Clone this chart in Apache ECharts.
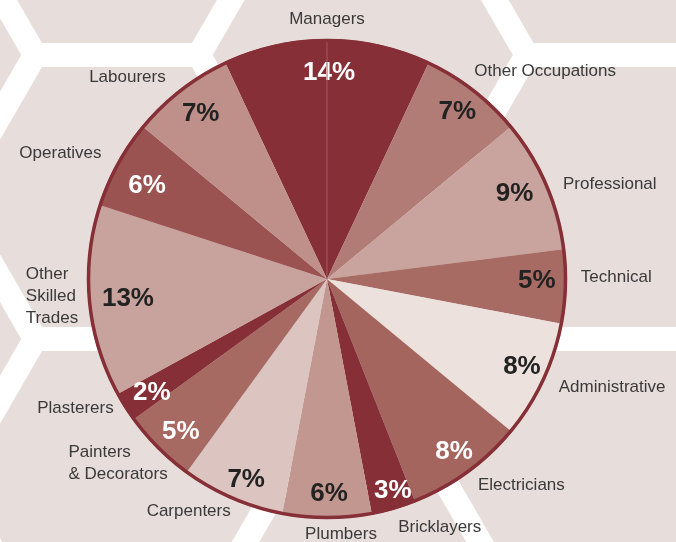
<!DOCTYPE html>
<html>
<head>
<meta charset="utf-8">
<script src="https://cdn.jsdelivr.net/npm/echarts@6/dist/echarts.min.js"></script>
<style>
	html, body { margin: 0; padding: 0; background: #ffffff; }
	#workforce { width: 676px; height: 542px; }
</style>
</head>
<body>
<div id="workforce"></div>
<script>
// occupation shares, clockwise from the top
const categories = ['Managers', 'Other Occupations', 'Professional', 'Technical', 'Administrative', 'Electricians', 'Bricklayers', 'Plumbers', 'Carpenters', 'Painters\n& Decorators', 'Plasterers', 'Other\nSkilled\nTrades', 'Operatives', 'Labourers'];
const shares = [14, 7, 9, 5, 8, 8, 3, 6, 7, 5, 2, 13, 6, 7];

const sliceColors = ['#862f37', '#b17c75', '#c9a39d', '#a86b63', '#ece1dd', '#a3655d', '#862f37', '#c29790', '#dcc4c0', '#a66a62', '#862f37', '#c8a29c', '#9a5350', '#bf8f89'];
const pctColors = ['#ffffff', '#222222', '#222222', '#222222', '#222222', '#ffffff', '#ffffff', '#222222', '#222222', '#ffffff', '#ffffff', '#222222', '#ffffff', '#222222'];

// small hand nudges for labels [dx, dy]
const nameNudge = [[0, -5], [-14, -6], [-3, 7], [-6, -10], [-4, 0], [-4, 0], [-5, 3], [14, 0], [10, -2], [26, 4], [7, -7], [10, -7], [3, -3], [0, 0]];
const pctNudge = [[2, 5], [1, 0], [-6, -1], [-1, -5], [4, -2], [3, 2], [7, 9], [2, 4], [3, 7], [3, 4], [3, 1], [11, 0], [5, 8], [3, 2]];
const centeredNames = [0, 7];
const blockNames = [9, 11];

const CX = 327, CY = 279, R = 240;
const total = shares.reduce((a, b) => a + b, 0);
const startAngle = 90 + shares[0] / total * 180; // first slice centred on top

// hexagon backdrop
const hexSide = 150, hexGap = 24;
const pitchY = hexSide * Math.sqrt(3) + hexGap;
const pitchX = pitchY * Math.sqrt(3) / 2;
let hexes = [];
for (let col = -1; col <= 3; col++) {
	for (let row = -1; row <= 2; row++) {
		let hx = 117 + col * pitchX;
		let hy = 197 + row * pitchY - (Math.abs(col) % 2 === 1 ? pitchY / 2 : 0);
		let pts = [];
		for (let k = 0; k < 6; k++) {
			let a = Math.PI / 3 * k;
			pts.push([hx + hexSide * Math.cos(a), hy + hexSide * Math.sin(a)]);
		}
		hexes.push({ type: 'polygon', silent: true, z: -10, shape: { points: pts }, style: { fill: '#e7ddda' } });
	}
}

let chart = echarts.init(document.getElementById('workforce'));

let font = 'Liberation Sans, Arial, Helvetica, sans-serif';

let option = {
	backgroundColor: '#ffffff',
	animation: false,
	graphic: hexes.concat([
		{ type: 'line', silent: true, z: 5, shape: { x1: CX, y1: CY, x2: CX, y2: CY - R }, style: { stroke: '#a35a60', lineWidth: 1 } },
		{ type: 'circle', silent: true, z: 10, shape: { cx: CX, cy: CY, r: R - 1.5 }, style: { fill: 'none', stroke: '#862f37', lineWidth: 3.5 } }
	]),
	series: [
		{
			type: 'pie',
			silent: true,
			center: [CX, CY],
			radius: [0, R],
			startAngle: startAngle,
			clockwise: true,
			avoidLabelOverlap: false,
			itemStyle: { borderWidth: 0 },
			label: {
				show: true,
				position: 'outside',
				formatter: '{b}',
				color: '#3a3a3a',
				fontFamily: font,
				fontSize: 17,
				lineHeight: 22,
				distanceToLabelLine: 5
			},
			labelLine: { show: false, length: 15, length2: 0 },
			labelLayout: function (p) {
				let i = p.dataIndex, n = nameNudge[i];
				if (centeredNames.indexOf(i) >= 0) return { x: CX + n[0], dy: n[1], align: 'center' };
				if (blockNames.indexOf(i) >= 0) return { x: p.labelRect.x + n[0], dy: n[1], align: 'left' };
				return { dx: n[0], dy: n[1] };
			},
			data: categories.map((c, i) => ({ name: c, value: shares[i], itemStyle: { color: sliceColors[i] } }))
		},
		{
			type: 'pie',
			silent: true,
			center: [CX, CY],
			radius: [176, R],
			startAngle: startAngle,
			clockwise: true,
			avoidLabelOverlap: false,
			itemStyle: { color: 'rgba(0,0,0,0)', borderWidth: 0 },
			label: {
				show: true,
				position: 'inside',
				formatter: '{c}%',
				fontFamily: font,
				fontSize: 26,
				fontWeight: 'bold'
			},
			labelLine: { show: false },
			labelLayout: function (p) {
				let n = pctNudge[p.dataIndex];
				return { dx: n[0], dy: n[1] };
			},
			data: categories.map((c, i) => ({ name: c, value: shares[i], label: { color: pctColors[i] } }))
		}
	]
};

chart.setOption(option);
</script>
</body>
</html>
